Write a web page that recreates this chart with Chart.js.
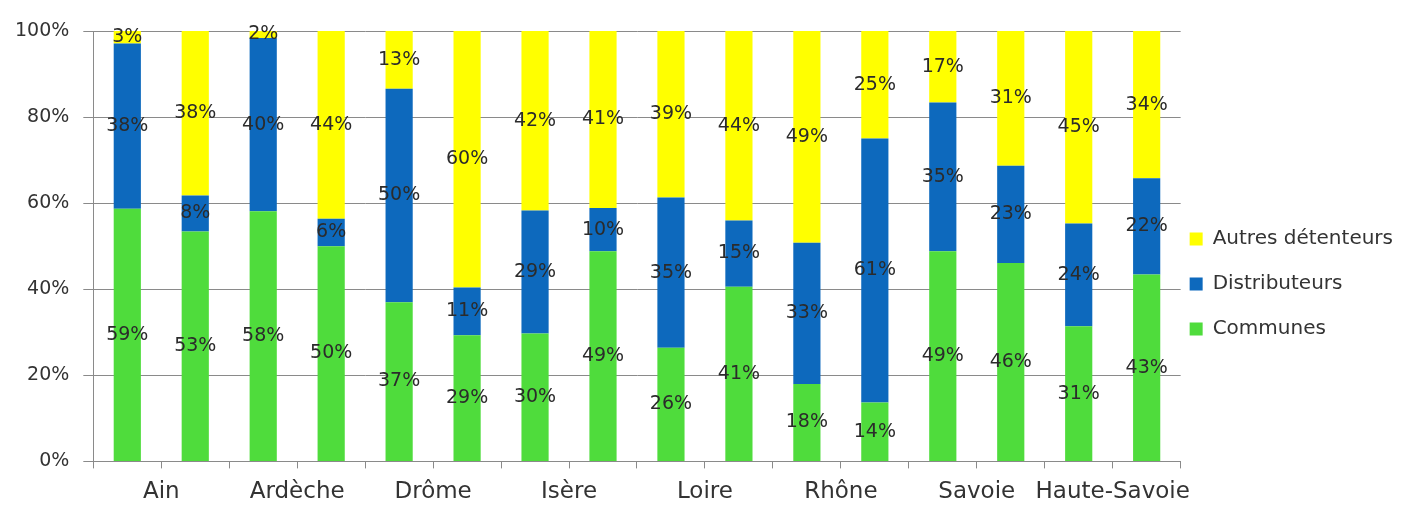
<!DOCTYPE html>
<html lang="fr">
<head>
<meta charset="utf-8">
<title>Répartition des détenteurs par département</title>
<script src="https://cdn.jsdelivr.net/npm/chart.js@4.4.1/dist/chart.umd.min.js"></script>
<style>
  html, body { margin: 0; padding: 0; background: #ffffff; }
  #wrap { width: 1407px; height: 509px; }
</style>
</head>
<body>
<div id="wrap"><canvas id="chart" width="1407" height="509"></canvas></div>
<script>
// departements (one label for each pair of bars)
const departements = ["Ain", "Ardèche", "Drôme", "Isère", "Loire", "Rhône", "Savoie", "Haute-Savoie"];
// two bars per departement
const barres = departements.flatMap((d) => [d + " (1)", d + " (2)"]);
// shares in %
const communes = [58.7, 53.4, 58.1, 50.0, 37.0, 29.3, 29.7, 48.8, 26.4, 40.6, 18.0, 13.7, 48.8, 46.1, 31.4, 43.4];
const distributeurs = [38.4, 8.4, 40.3, 6.4, 49.6, 11.1, 28.6, 10.1, 34.9, 15.4, 32.8, 61.3, 34.6, 22.6, 23.9, 22.4];
const autres = [2.9, 38.2, 1.6, 43.6, 13.4, 59.6, 41.7, 41.1, 38.7, 44.0, 49.2, 25.0, 16.6, 31.3, 44.7, 34.2];
// y axis ticks
const yTicks = [0, 20, 40, 60, 80, 100];

const FONT = "'DejaVu Sans', sans-serif";
const GRID = "#8a8a8a";

//draws the value in the middle of each segment
const valueLabels = {
  id: "valueLabels",
  afterDatasetsDraw(chart) {
    const ctx = chart.ctx;
    ctx.save();
    ctx.font = "19px " + FONT;
    ctx.fillStyle = "#2b2b2b";
    ctx.textAlign = "center";
    ctx.textBaseline = "middle";
    chart.data.datasets.forEach((ds, i) => {
      const meta = chart.getDatasetMeta(i);
      meta.data.forEach((bar, j) => {
        const y = (bar.y + bar.base) / 2;
        ctx.fillText(Math.round(ds.data[j]) + "%", bar.x, y);
      });
    });
    ctx.restore();
  },
};

//puts the legend where it is in the original (lower, closer to the plot)
const legendShift = {
  id: "legendShift",
  afterLayout(chart) {
    const lg = chart.legend;
    const dy = 284 - (lg.top + lg.bottom) / 2;
    const dx = -16;
    lg.top += dy;
    lg.bottom += dy;
    lg.left += dx;
    lg.right += dx;
  },
};

new Chart(document.getElementById("chart"), {
  type: "bar",
  plugins: [valueLabels, legendShift],
  data: {
    labels: barres,
    datasets: [
      { label: "Communes", data: communes, backgroundColor: "#4fdc3c" },
      { label: "Distributeurs", data: distributeurs, backgroundColor: "#0d69bd" },
      { label: "Autres détenteurs", data: autres, backgroundColor: "#ffff00" },
    ],
  },
  options: {
    responsive: false,
    animation: false,
    layout: { padding: { left: 1, top: 31, bottom: -7, right: -12 } },
    datasets: { bar: { barPercentage: 0.4, categoryPercentage: 1 } },
    plugins: {
      tooltip: { enabled: false },
      legend: {
        position: "right",
        reverse: true,
        labels: {
          boxWidth: 13,
          boxHeight: 13,
          padding: 25,
          color: "#333333",
          font: { family: FONT, size: 20 },
        },
      },
    },
    scales: {
      x: {
        stacked: true,
        ticks: { display: false },
        grid: { offset: true, drawOnChartArea: false, tickLength: 7, color: GRID },
        border: { color: GRID },
      },
      x2: {
        type: "category",
        labels: departements,
        position: "bottom",
        offset: true,
        grid: { display: false, drawTicks: false },
        border: { display: false },
        ticks: {
          padding: 10,
          maxRotation: 0,
          autoSkip: false,
          color: "#333333",
          font: { family: FONT, size: 23 },
        },
      },
      y: {
        stacked: true,
        min: 0,
        max: 100,
        afterBuildTicks: (axis) => {
          axis.ticks = yTicks.map((v) => ({ value: v }));
        },
        ticks: { padding: 14, color: "#333333", font: { family: FONT, size: 19 }, callback: (v) => v + "%" },
        grid: { color: GRID, tickLength: 10 },
        border: { color: GRID },
      },
    },
  },
});
</script>
</body>
</html>
